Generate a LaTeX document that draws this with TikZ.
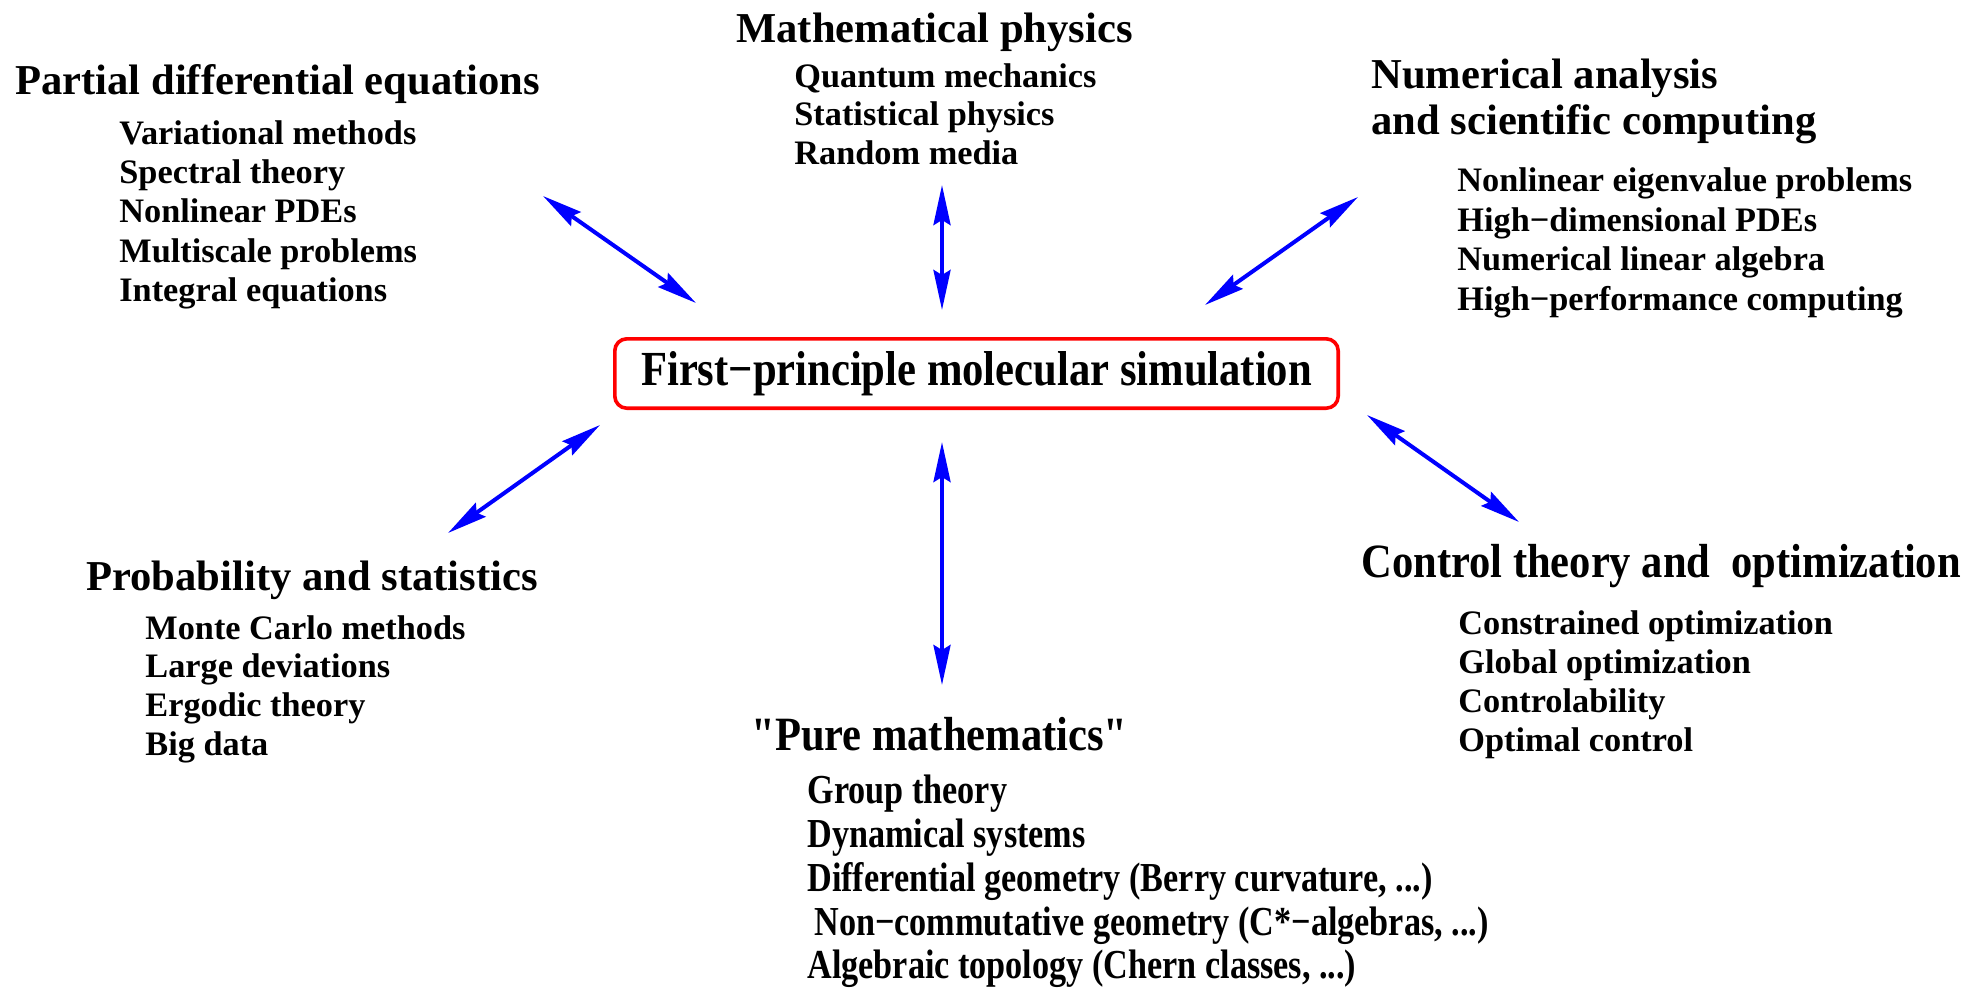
\documentclass[tikz,border=0pt]{standalone}
\usepackage{fontspec}
\setmainfont{Liberation Serif}
\newfontfamily\tallfont[FakeStretch=0.89]{Liberation Serif}
\newfontfamily\tallerfont[FakeStretch=0.83]{Liberation Serif}
\newfontfamily\simfont[FakeStretch=0.87]{Liberation Serif}
\usetikzlibrary{arrows.meta,positioning}
\definecolor{linkblue}{RGB}{0,0,255}
\definecolor{boxred}{RGB}{255,0,0}

\begin{document}
\begin{tikzpicture}[x=0.5pt, y=-0.5pt,
        head/.style={anchor=base west, inner sep=0pt, font=\fontsize{21.3}{25}\selectfont\bfseries},
        tallhead/.style={anchor=base west, inner sep=0pt, font=\tallfont\fontsize{23.9}{28}\selectfont\bfseries},
        item/.style={anchor=base west, inner sep=0pt, font=\fontsize{17.15}{20}\selectfont\bfseries},
        tallitem/.style={anchor=base west, inner sep=0pt, font=\tallerfont\fontsize{20.6}{24}\selectfont\bfseries},
        simbox/.style={draw=boxred, line width=1.8pt, rounded corners=6pt, minimum width=361.7pt, minimum height=34.7pt, inner sep=0pt, font=\simfont\fontsize{24.5}{28}\selectfont\bfseries},
        link/.style={{Stealth[length=20pt, width=8.5pt, inset=2.5pt]}-{Stealth[length=20pt, width=8.5pt, inset=2.5pt]}, line width=2pt, linkblue}
    ]
    \useasboundingbox (0,0) rectangle (1986,987);
    % centre
    \node[simbox] (sim) at (976.5,373.5) {First−principle molecular simulation};
    % groups
    \node[head] (pde) at (15,94.5) {Partial differential equations};
    \foreach \txt [count=\i] in {Variational methods, Spectral theory, Nonlinear PDEs, Multiscale problems, Integral equations}
        \node[item] (pde\i) at (119,{144.5+39.2*(\i-1)}) {\txt};
    \node[head] (phys) at (736,42) {Mathematical physics};
    \foreach \txt [count=\i] in {Quantum mechanics, Statistical physics, Random media}
        \node[item] (phys\i) at (794,{87+38.5*(\i-1)}) {\txt};
    \node[head] (num) at (1371,88) {Numerical analysis};
    \node[head] (numb) at (1371,134) {and scientific computing};
    \foreach \txt [count=\i] in {Nonlinear eigenvalue problems, High−dimensional PDEs, Numerical linear algebra, High−performance computing}
        \node[item] (num\i) at (1457,{191.5+39.5*(\i-1)}) {\txt};
    \node[head] (prob) at (86,590.5) {Probability and statistics};
    \foreach \txt [count=\i] in {Monte Carlo methods, Large deviations, Ergodic theory, Big data}
        \node[item] (prob\i) at (145,{639+38.8*(\i-1)}) {\txt};
    \node[tallhead] (ctrl) at (1361,577) {Control theory and\ \ optimization};
    \foreach \txt [count=\i] in {Constrained optimization, Global optimization, Controlability, Optimal control}
        \node[item] (ctrl\i) at (1458,{634.5+39*(\i-1)}) {\txt};
    \node[tallhead] (pure) at (751,750) {"Pure mathematics"};
    \node[tallitem] (pure1) at (807,803) {Group theory};
    \node[tallitem] (pure2) at (807,847) {Dynamical systems};
    \node[tallitem] (pure3) at (807,891) {Differential geometry (Berry curvature, ...)};
    \node[tallitem] (pure4) at (814,935) {Non−commutative geometry (C*−algebras, ...)};
    \node[tallitem] (pure5) at (807,978) {Algebraic topology (Chern classes, ...)};
    % arrows
    \coordinate (a-pde) at (543,196);
    \coordinate (b-pde) at (696,303);
    \coordinate (a-phys) at (942,185);
    \coordinate (b-phys) at (942,310);
    \coordinate (a-num) at (1358,197);
    \coordinate (b-num) at (1205,305);
    \coordinate (a-prob) at (600,425);
    \coordinate (b-prob) at (448,533);
    \coordinate (a-ctrl) at (1367,415);
    \coordinate (b-ctrl) at (1519,522);
    \coordinate (a-pure) at (942,442);
    \coordinate (b-pure) at (942,685);
    \draw[link] (a-pde) -- (b-pde);
    \draw[link] (a-phys) -- (b-phys);
    \draw[link] (a-num) -- (b-num);
    \draw[link] (a-prob) -- (b-prob);
    \draw[link] (a-ctrl) -- (b-ctrl);
    \draw[link] (a-pure) -- (b-pure);
\end{tikzpicture}
\end{document}
